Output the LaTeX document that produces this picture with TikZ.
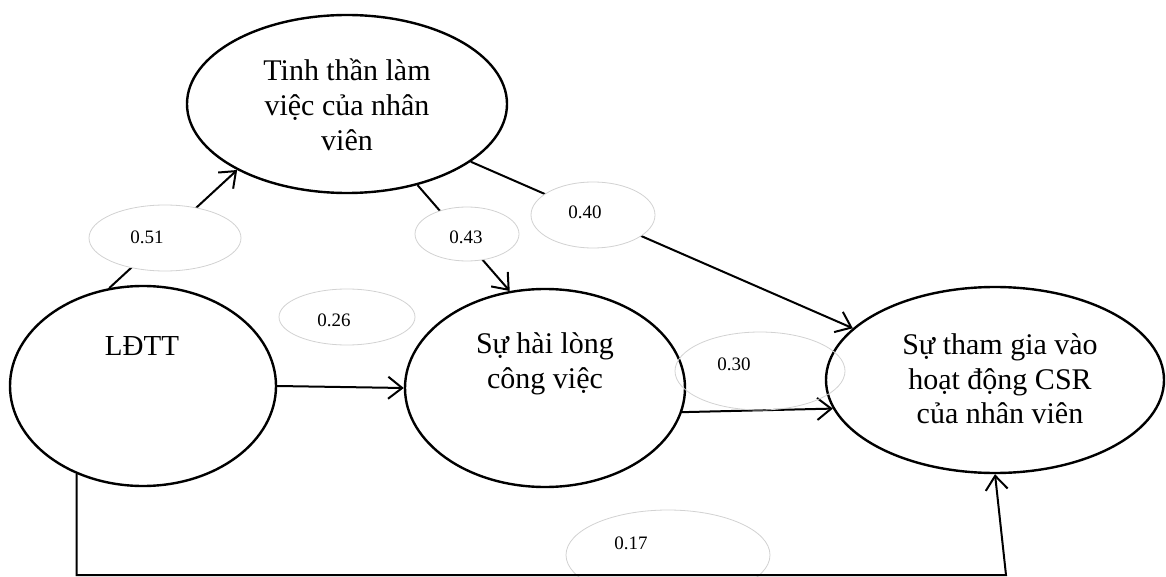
\documentclass[tikz,border=0pt]{standalone}
\usepackage{fontspec}
\setmainfont{Liberation Serif}
\usetikzlibrary{arrows.meta,shapes.geometric}
\tikzset{
  bigell/.style={ellipse,draw=black,line width=1.2pt,inner sep=0pt},
  bigtxt/.style={align=center,font=\fontsize{15}{17.2}\selectfont,inner sep=0pt},
  labell/.style={ellipse,draw=gray!35,line width=0.4pt,fill=white,inner sep=0pt},
  labtxt/.style={font=\fontsize{9.5}{11}\selectfont,inner sep=0pt},
  conn/.style={line width=1pt,-{Straight Barb[length=7pt,width=11pt,line width=1pt]}}
}
\begin{document}
\begin{tikzpicture}[x=0.5pt,y=-0.5pt]
\useasboundingbox (0,0) rectangle (1166,577);
% main ellipses
\node[bigell,minimum width=160pt,minimum height=89pt] (T) at (347,104) {};
\node[bigell,minimum width=133pt,minimum height=100pt] (L) at (143,386) {};
\node[bigell,minimum width=140pt,minimum height=99pt] (M) at (545,388) {};
\node[bigell,minimum width=169pt,minimum height=93pt] (R) at (995,380) {};
% texts
\node[bigtxt,font=\fontsize{15}{17.6}\selectfont] (Tt) at (347,105) {Tinh thần làm\\việc của nhân\\viên};
\node[bigtxt,font=\fontsize{14.5}{16.8}\selectfont] (Lt) at (142,346) {LĐTT};
\node[bigtxt] (Mt) at (545,364) {Sự hài lòng\\công việc};
\node[bigtxt] (Rt) at (1000,379) {Sự tham gia vào\\hoạt động CSR\\của nhân viên};
% connectors
\draw[conn] (L.109) -- (T.211);
\draw[conn] (T.-49) -- (M.110);
\draw[conn] (T.-25) -- (R.160);
\draw[conn] (M.-10) -- (R.190);
\draw[conn] (L.0) -- (M.180);
% labels
\node[labell,minimum width=76pt,minimum height=33pt] (e51) at (165,238) {};
\node[labtxt] (t51) at (147,237) {0.51};
\node[labell,minimum width=52pt,minimum height=27pt] (e43) at (467,234) {};
\node[labtxt] (t43) at (466,237) {0.43};
\node[labell,minimum width=62pt,minimum height=33pt] (e40) at (593,215) {};
\node[labtxt] (t40) at (585,212) {0.40};
\node[labell,minimum width=68pt,minimum height=28pt] (e26) at (347,317) {};
\node[labtxt] (t26) at (334,320) {0.26};
\node[labell,fill=none,minimum width=85pt,minimum height=39pt] (e30) at (760,371) {};
\node[labtxt] (t30) at (734,364) {0.30};
\node[labell,minimum width=102pt,minimum height=45pt] (e17) at (668,555) {};
\node[labtxt] (t17) at (631,543) {0.17};
% bottom connector
\coordinate (bot) at (1006,575);
\draw[conn] (L.233) |- (bot) -- (R.south);
\end{tikzpicture}
\end{document}
